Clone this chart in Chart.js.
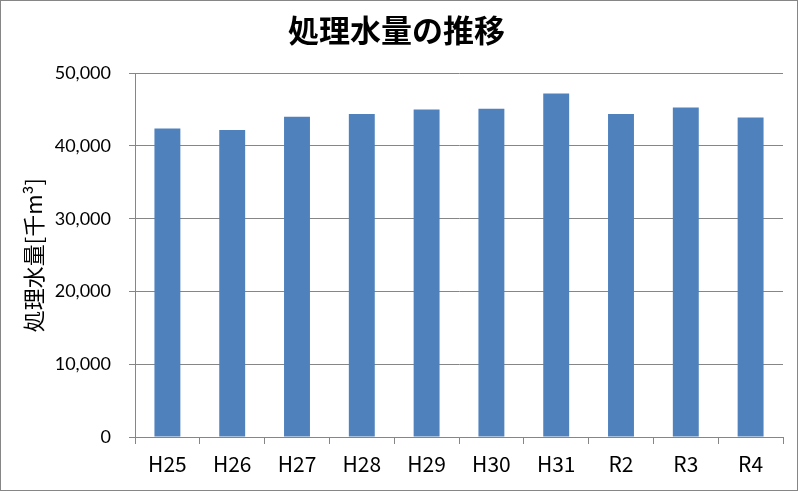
<!DOCTYPE html>
<html>
<head>
<meta charset="utf-8">
<script src="https://cdn.jsdelivr.net/npm/chart.js@4"></script>
<style>
  html, body { margin: 0; padding: 0; background: #fff; }
  #wrap { width: 798px; height: 491px; }
</style>
</head>
<body>
<div id="wrap"><canvas id="myChart" width="798" height="491"></canvas></div>
<script>
// years (Heisei / Reiwa) and treated water volume [thousand m3]
var years = ['H25', 'H26', 'H27', 'H28', 'H29', 'H30', 'H31', 'R2', 'R3', 'R4'];
var volume = [42400, 42200, 44000, 44400, 45000, 45100, 47200, 44400, 45300, 43900];
var yTicks = [0, 10000, 20000, 30000, 40000, 50000];

var frame = {
    id: 'frame',
    beforeDraw: function (chart) {
        var c = chart.ctx;
        c.save();
        c.fillStyle = '#fff';
        c.fillRect(0, 0, chart.width, chart.height);
        c.restore();
    },
    afterDraw: function (chart) {
        var c = chart.ctx;
        c.save();
        c.strokeStyle = '#868686';
        c.lineWidth = 1;
        c.strokeRect(0.5, 0.5, chart.width - 1, chart.height - 1);
        c.restore();
    }
};

var ctx = document.getElementById('myChart').getContext('2d');
var myChart = new Chart(ctx, {
    type: 'bar',
    data: {
        labels: years,
        datasets: [{
            label: '処理水量',
            data: volume,
            backgroundColor: '#4F81BD',
            categoryPercentage: 1.0,
            barPercentage: 0.4
        }]
    },
    options: {
        responsive: false,
        animation: false,
        layout: {
            padding: { left: 10, right: 15, top: 10, bottom: 0 }
        },
        plugins: {
            legend: { display: false },
            tooltip: { enabled: false },
            title: {
                display: true,
                text: '処理水量の推移',
                color: '#000',
                font: { family: '"Noto Sans CJK JP"', size: 31, weight: 'bold' },
                padding: { top: 2, bottom: 24 }
            }
        },
        scales: {
            x: {
                grid: {
                    display: true,
                    drawOnChartArea: false,
                    color: '#868686',
                    tickLength: 7
                },
                border: { color: '#868686' },
                ticks: {
                    color: '#000',
                    padding: 7,
                    font: { family: '"Noto Sans CJK JP"', size: 21 }
                },
                afterFit: function (s) { s.height = 54; }
            },
            y: {
                min: 0,
                max: 50000,
                afterBuildTicks: function (s) {
                    s.ticks = yTicks.map(function (v) { return { value: v }; });
                },
                grid: {
                    color: '#868686',
                    tickLength: 6
                },
                border: { color: '#868686' },
                ticks: {
                    color: '#000',
                    padding: 18,
                    font: { family: 'Lato', size: 18 },
                    callback: function (v) { return v.toLocaleString('en-US'); }
                },
                title: {
                    display: true,
                    text: '処理水量[千m³]',
                    color: '#000',
                    font: { family: '"Noto Sans CJK JP"', size: 22 },
                    padding: { top: 10, bottom: 10 }
                },
                afterFit: function (s) { s.width = 125; }
            }
        }
    },
    plugins: [frame]
});
</script>
</body>
</html>
